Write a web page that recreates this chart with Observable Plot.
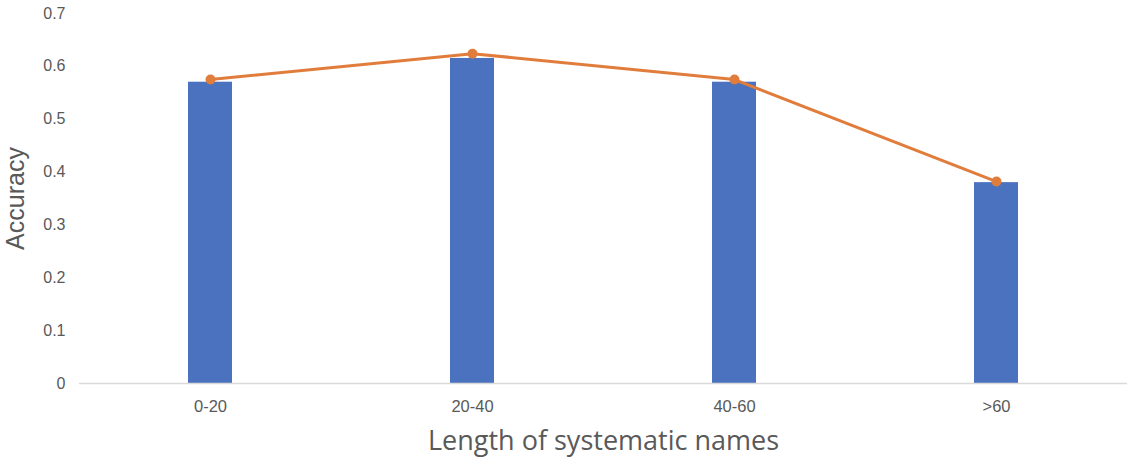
<!DOCTYPE html>
<html><head><meta charset="utf-8">
<script src="https://cdn.jsdelivr.net/npm/d3@7"></script>
<script src="https://cdn.jsdelivr.net/npm/@observablehq/plot@0.6"></script>
<style>body{margin:0;background:#fff;} svg{display:block;}</style>
</head><body><div id="chart"></div>
<script>
const categories = ["0-20", "20-40", "40-60", ">60"];
const barValues = [0.57, 0.615, 0.57, 0.38];
const lineValues = [0.575, 0.624, 0.575, 0.382];
const yTicks = [0, 0.1, 0.2, 0.3, 0.4, 0.5, 0.6, 0.7];
const yTickLabels = ["0", "0.1", "0.2", "0.3", "0.4", "0.5", "0.6", "0.7"];
const xTitle = "Length of systematic names";
const yTitle = "Accuracy";

const bars = categories.map((c, i) => ({cat: c, v: barValues[i]}));
const pts = categories.map((c, i) => ({cat: c, v: lineValues[i]}));

const font = "'Liberation Sans', Arial, sans-serif";
const titleFont = "'Open Sans', 'Liberation Sans', sans-serif";
const chart = Plot.plot({
  width: 1136, height: 470,
  marginLeft: 79, marginRight: 9, marginTop: 13, marginBottom: 87,
  style: {fontFamily: font, background: "#fff"},
  x: {domain: categories, paddingInner: 0.832, paddingOuter: 0.416, label: null},
  y: {domain: [0, 0.7], label: null},
  marks: [
    Plot.barY(bars, {x: "cat", y: "v", fill: "#4A72BE"}),
    Plot.ruleY([0], {stroke: "#d9d9d9", strokeWidth: 1.5}),
    Plot.axisY({ticks: yTicks, tickSize: 0, tickPadding: 14, fontSize: 16, fill: "#595959",
      tickFormat: d => yTickLabels[yTicks.indexOf(d)], label: null}),
    Plot.axisX({tickSize: 0, tickPadding: 17, fontSize: 16.5, fill: "#595959", label: null}),
    Plot.line(pts, {x: "cat", y: "v", stroke: "#E07D3C", strokeWidth: 3}),
    Plot.dot(pts, {x: "cat", y: "v", fill: "#E07D3C", r: 5}),
    Plot.text([xTitle], {frameAnchor: "bottom", lineAnchor: "middle", dy: 58, fontSize: 27,
      fill: "#595959", fontWeight: 400, fontFamily: titleFont}),
    Plot.text([yTitle], {frameAnchor: "left", textAnchor: "middle", lineAnchor: "bottom", rotate: -90, dx: -56,
      fontSize: 25, fill: "#595959", fontFamily: font})
  ]
});
document.getElementById("chart").append(chart);
</script></body></html>
